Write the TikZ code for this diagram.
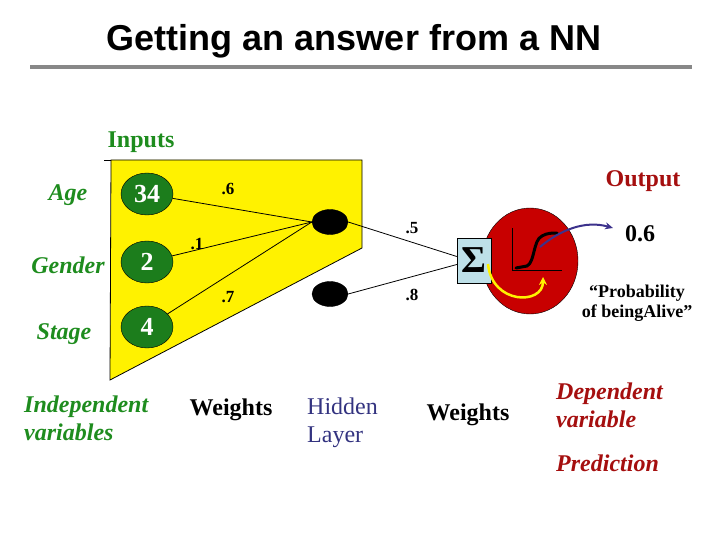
\documentclass[tikz,border=0pt]{standalone}
\usepackage{fontspec}
\setmainfont{Liberation Serif}
\newfontfamily\sansfnt{Liberation Sans}
\usetikzlibrary{arrows.meta,calc,shapes.geometric}
\definecolor{tgreen}{RGB}{30,140,30}
\definecolor{egreen}{RGB}{28,125,28}
\definecolor{dred}{RGB}{165,15,15}
\definecolor{cred}{RGB}{200,0,0}
\definecolor{hblue}{RGB}{51,51,128}
\definecolor{sboxc}{RGB}{190,224,232}
\definecolor{ablue}{RGB}{60,50,140}
\definecolor{rulegray}{RGB}{136,136,136}
\begin{document}
\begin{tikzpicture}[x=1pt,y=-1pt,
  txt/.style={inner sep=0pt},
  big/.style={inner sep=0pt,font=\fontsize{24}{28}\selectfont},
  inp/.style={ellipse,draw=black,fill=egreen,minimum width=52pt,minimum height=42pt,inner sep=0pt,text=white,font=\fontsize{26}{26}\selectfont\bfseries},
  hid/.style={ellipse,fill=black,draw=black,minimum width=36pt,minimum height=25pt,inner sep=0pt},
  wlbl/.style={inner sep=0pt,font=\fontsize{17}{17}\selectfont\bfseries},
  wire/.style={draw=black,line width=0.8pt}]
\useasboundingbox (0,0) rectangle (720,540);
% title
\node[anchor=base,inner sep=0pt,font=\sansfnt\bfseries\fontsize{36}{36}\selectfont] (title) at (354,51) {Getting an answer from a NN};
\draw[line width=4pt,rulegray] (30,67) -- (692,67);
% yellow region
\filldraw[fill=yellow,draw=black,line width=0.8pt] (111,160) -- (362,160) -- (362,248) -- (110,380) -- cycle;
\draw[line width=0.8pt] (104,160) -- (111,160);
% labels
\node[big,anchor=base,text=tgreen,font=\fontsize{24}{28}\selectfont\bfseries] (inputs) at (141,148) {Inputs};
\node[big,anchor=base,text=dred,font=\fontsize{24}{28}\selectfont\bfseries] (output) at (643,187) {Output};
\node[big,anchor=base,text=tgreen,font=\fontsize{24}{28}\selectfont\bfseries\itshape] (age) at (68,201) {Age};
\node[big,anchor=base,text=tgreen,font=\fontsize{24}{28}\selectfont\bfseries\itshape] (gender) at (68,273) {Gender};
\node[big,anchor=base,text=tgreen,font=\fontsize{24}{28}\selectfont\bfseries\itshape] (stage) at (64,339) {Stage};
% input nodes
\node[inp] (i1) at (147,194) {34};
\node[inp] (i2) at (147,262) {2};
\node[inp] (i3) at (147,327) {4};
% hidden nodes
\node[hid] (h1) at (330,222) {};
\node[hid] (h2) at (330,294) {};
% output circle and sigma
\node[ellipse,draw=black,fill=cred,minimum width=96pt,minimum height=106pt,inner sep=0pt] (oc) at (530,261) {};
\node[draw=black,fill=sboxc,minimum width=34pt,minimum height=45pt,inner sep=0pt,font=\bfseries\fontsize{38}{38}\selectfont] (sig) at (474,260.5) {Σ};
% connections
\draw[wire] (i1) -- (h1.west);
\draw[wire] (i2) -- (h1.west);
\draw[wire] (i3) -- (h1.west);
\draw[wire] (h1.east) -- ($(sig.west)+(0,-4)$);
\draw[wire] (h2.east) -- ($(sig.west)+(0,4)$);
% weight labels
\node[wlbl] (w6) at (228,189) {.6};
\node[wlbl] (w1) at (197,244) {.1};
\node[wlbl] (w7) at (228,297) {.7};
\node[wlbl] (w5) at (412,228) {.5};
\node[wlbl] (w8) at (412,295) {.8};
% activation graph
\draw[line width=0.8pt] (512,228) -- (512,270) -- (562,270);
\coordinate (sg) at (540,247);
\draw[line width=3pt,line cap=round] (516,268) -- (527,266) .. controls (535,262) and (533,240) .. (542,236) .. controls (547,233) and (552,233) .. (557,233);
% output value
\node[inner sep=0pt,anchor=base,font=\fontsize{24}{24}\selectfont\bfseries] (val) at (640,241) {0.6};
\coordinate (btip) at (613,228);
\draw[ablue,line width=2pt,-{Stealth[length=8pt,width=7pt]}] (sg) .. controls (560,230) and (585,220) .. (btip);
% yellow arrow
\coordinate (ys) at (488,264);
\coordinate (ye) at (543,277);
\draw[yellow,line width=2.5pt,-{Stealth[length=8pt,width=8pt]}] (ys) .. controls (492,305) and (543,305) .. (ye);
% probability text
\node[inner sep=0pt,anchor=north,align=center,font=\fontsize{18}{20}\selectfont\bfseries] (prob) at (637,285) {“Probability\\of beingAlive”};
% bottom labels
\node[inner sep=0pt,anchor=north west,align=left,text=tgreen,font=\fontsize{24}{28}\selectfont\bfseries\itshape] (indep) at (24,396) {Independent\\variables};
\node[inner sep=0pt,anchor=base,font=\fontsize{24}{28}\selectfont\bfseries] (wts1) at (231,415) {Weights};
\node[inner sep=0pt,anchor=north west,align=left,text=hblue,font=\fontsize{24}{28}\selectfont] (hl) at (307,398) {Hidden\\Layer};
\node[inner sep=0pt,anchor=base,font=\fontsize{24}{28}\selectfont\bfseries] (wts2) at (468,420) {Weights};
\node[inner sep=0pt,anchor=north west,align=left,text=dred,font=\fontsize{24}{28}\selectfont\bfseries\itshape] (dep) at (556,383) {Dependent\\variable};
\node[inner sep=0pt,anchor=base west,text=dred,font=\fontsize{24}{28}\selectfont\bfseries\itshape] (pred) at (556,471) {Prediction};
\end{tikzpicture}
\end{document}
